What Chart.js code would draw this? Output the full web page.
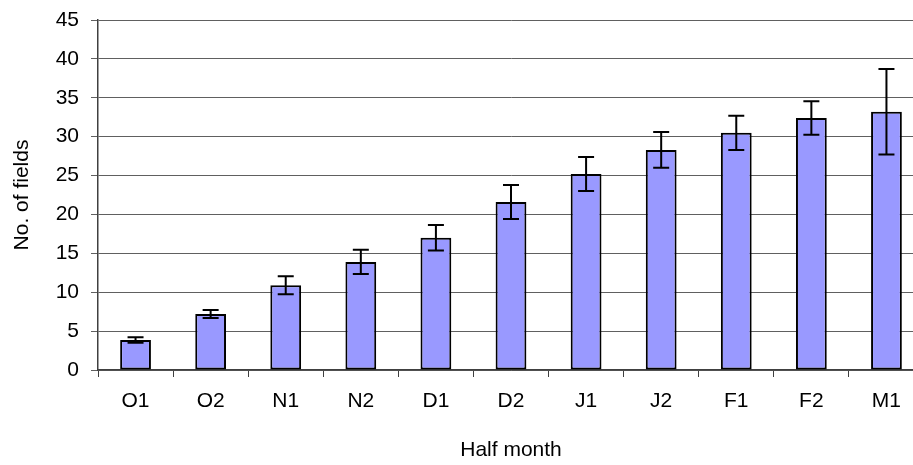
<!DOCTYPE html>
<html>
<head>
<meta charset="utf-8">
<script src="https://cdn.jsdelivr.net/npm/chart.js@4"></script>
<style>
  html, body { margin: 0; padding: 0; background: #fff; overflow: hidden; }
  #wrap { position: relative; width: 924px; height: 465px; }
</style>
</head>
<body>
<div id="wrap"><canvas id="fieldsChart"></canvas></div>
<script>
// data
const halfMonths = ["O1", "O2", "N1", "N2", "D1", "D2", "J1", "J2", "F1", "F2", "M1"];
const fieldCounts = [3.85, 7.2, 10.9, 13.9, 17.0, 21.6, 25.2, 28.3, 30.5, 32.4, 33.2];
const fieldErrors = [0.35, 0.5, 1.15, 1.55, 1.65, 2.2, 2.2, 2.3, 2.2, 2.15, 5.5];
const yTicks = [0, 5, 10, 15, 20, 25, 30, 35, 40, 45];

const fontFamily = "'Liberation Sans', Arial, sans-serif";

// draws the error bars on top of the bars
const errorBars = {
    id: "errorBars",
    afterDatasetsDraw(chart) {
        const ctx = chart.ctx;
        const yScale = chart.scales.y;
        const meta = chart.getDatasetMeta(0);
        ctx.save();
        ctx.strokeStyle = "#000";
        ctx.lineWidth = 2;
        meta.data.forEach((bar, i) => {
            const x = bar.x;
            const top = yScale.getPixelForValue(fieldCounts[i] + fieldErrors[i]);
            const bottom = yScale.getPixelForValue(fieldCounts[i] - fieldErrors[i]);
            const cap = 8;
            ctx.beginPath();
            ctx.moveTo(x, top);
            ctx.lineTo(x, bottom);
            ctx.moveTo(x - cap, top);
            ctx.lineTo(x + cap, top);
            ctx.moveTo(x - cap, bottom);
            ctx.lineTo(x + cap, bottom);
            ctx.stroke();
        });
        ctx.restore();
    }
};

const ctx = document.getElementById("fieldsChart").getContext("2d");
new Chart(ctx, {
    type: "bar",
    data: {
        labels: halfMonths,
        datasets: [{
            label: "No. of fields",
            data: fieldCounts,
            backgroundColor: "#9999ff",
            borderColor: "#000",
            borderWidth: 2,
            borderSkipped: false,
            barPercentage: 0.41,
            categoryPercentage: 1
        }]
    },
    options: {
        responsive: true,
        maintainAspectRatio: false,
        animation: false,
        layout: { padding: { top: 20, left: 10, right: 0, bottom: 2 } },
        plugins: {
            legend: { display: false },
            tooltip: { enabled: false }
        },
        scales: {
            x: {
                offset: true,
                afterFit(scale) {
                    scale.height = 93;
                    scale.paddingLeft = 0;
                    scale.paddingRight = 0;
                },
                grid: {
                    display: true,
                    drawOnChartArea: false,
                    drawTicks: true,
                    tickLength: 7,
                    offset: true,
                    color: "#404040"
                },
                border: { color: "#404040", width: 1.5 },
                ticks: {
                    color: "#000",
                    font: { family: fontFamily, size: 21 },
                    padding: 12,
                    maxRotation: 0
                },
                title: {
                    display: true,
                    text: "Half month",
                    color: "#000",
                    font: { family: fontFamily, size: 21 },
                    padding: { top: 10, bottom: 0 }
                }
            },
            y: {
                min: 0,
                max: 45,
                afterFit(scale) {
                    scale.width = 88;
                    scale.paddingTop = 0;
                    scale.paddingBottom = 0;
                },
                afterBuildTicks(scale) {
                    scale.ticks = yTicks.map(v => ({ value: v }));
                },
                grid: {
                    color: "#606060",
                    lineWidth: 1,
                    tickLength: 7
                },
                border: { color: "#404040", width: 1.5 },
                ticks: {
                    color: "#000",
                    font: { family: fontFamily, size: 21 },
                    padding: 12
                },
                title: {
                    display: true,
                    text: "No. of fields",
                    color: "#000",
                    font: { family: fontFamily, size: 21 },
                    padding: { top: 0, bottom: 10 }
                }
            }
        }
    },
    plugins: [errorBars]
});
</script>
</body>
</html>
